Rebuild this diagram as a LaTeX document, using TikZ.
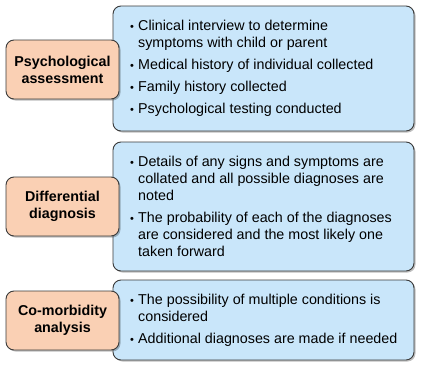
\documentclass[tikz,border=0pt]{standalone}
\usepackage{fontspec}
\setmainfont{Liberation Sans}
\usetikzlibrary{shadows}
\definecolor{peach}{HTML}{FAD0B4}
\definecolor{skyfill}{HTML}{C9E6FA}
\definecolor{edgegray}{HTML}{3A3A3A}
\newcommand{\bul}{\hspace*{3pt}{\fontsize{11}{17}\selectfont\textbullet}}
\begin{document}
\begin{tikzpicture}[x=1pt,y=-1pt,
  boxbase/.style={draw=edgegray, line width=0.9pt, rounded corners=8pt, inner sep=0pt,
    drop shadow={shadow xshift=1.5pt, shadow yshift=-1.5pt, fill=black, opacity=0.25}},
  bluebox/.style={boxbase, fill=skyfill, minimum width=301pt},
  orangebox/.style={boxbase, fill=peach, minimum width=113pt, minimum height=59pt,
    align=center, font=\fontsize{14.3}{17}\selectfont\bfseries},
  listtext/.style={anchor=west, inner sep=0pt, font=\fontsize{14.3}{17}\selectfont}
]
\useasboundingbox (0,0) rectangle (424,370);
% blue boxes
\node[bluebox, minimum height=125pt] (b1) at (263.5,68.5) {};
\node[bluebox, minimum height=129pt] (b2) at (263.5,206.5) {};
\node[bluebox, minimum height=80pt] (b3) at (263.5,320) {};
% list texts
\node[listtext] (t1) at (127,69) {\begin{tabular}{@{}p{11pt}@{}l@{}}
\bul & Clinical interview to determine\\
 & symptoms with child or parent\\[5pt]
\bul & Medical history of individual collected\\[5pt]
\bul & Family history collected\\[5pt]
\bul & Psychological testing conducted
\end{tabular}};
\node[listtext] (t2) at (127,208) {\begin{tabular}{@{}p{11pt}@{}l@{}}
\bul & Details of any signs and symptoms are\\
 & collated and all possible diagnoses are\\
 & noted\\[5pt]
\bul & The probability of each of the diagnoses\\
 & are considered and the most likely one\\
 & taken forward
\end{tabular}};
\node[listtext] (t3) at (127,320.5) {\begin{tabular}{@{}p{11pt}@{}l@{}}
\bul & The possibility of multiple conditions is\\
 & considered\\[5pt]
\bul & Additional diagnoses are made if needed
\end{tabular}};
% orange boxes
\node[orangebox] (o1) at (62.5,69.5) {Psychological\\assessment};
\node[orangebox] (o2) at (62.5,206.5) {Differential\\diagnosis};
\node[orangebox] (o3) at (62.5,320.5) {Co-morbidity\\analysis};
\end{tikzpicture}
\end{document}
